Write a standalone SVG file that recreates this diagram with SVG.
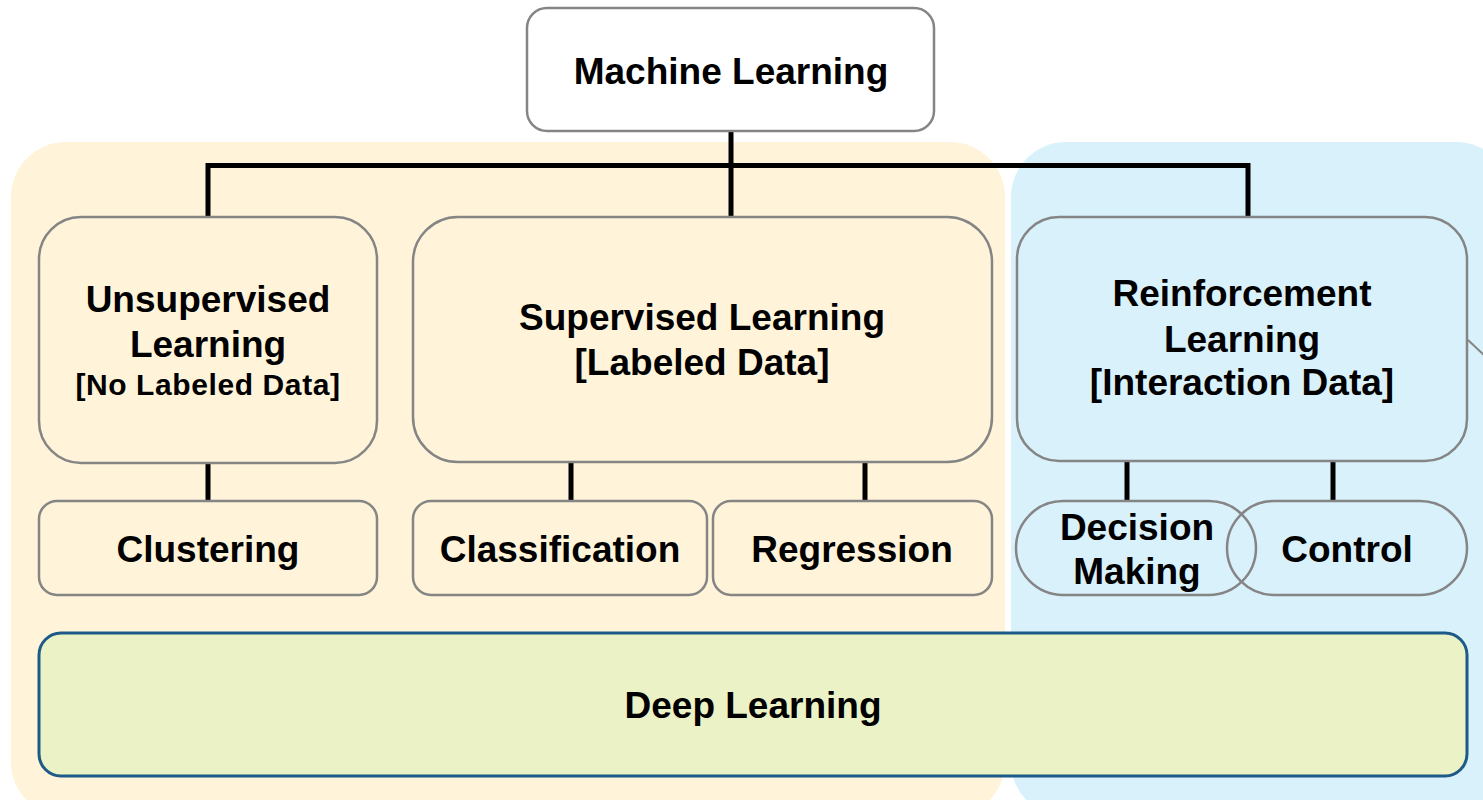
<svg xmlns="http://www.w3.org/2000/svg" width="1483" height="800" viewBox="0 0 1483 800">
  <style>
    .zone-sup { fill: #FFF4D9; }
    .zone-rl { fill: #D9F1FB; }
    .box { stroke: #858585; stroke-width: 2.5; }
    .sup { fill: #FFF4D9; }
    .rl { fill: #D9F1FB; }
    .top { fill: #FFFFFF; }
    .deep { fill: #EAF2C6; stroke: #1D5A87; stroke-width: 3; }
    .link { stroke: #000000; stroke-width: 5; fill: none; stroke-linecap: butt; }
    .label { font-family: "Liberation Sans", Arial, sans-serif; font-weight: bold; font-size: 37px; fill: #000000; text-anchor: middle; }
    .small { font-size: 30px; letter-spacing: 0.6px; }
  </style>

  <!-- background zones -->
  <rect class="zone-sup" x="11" y="142" width="994" height="675" rx="55"/>
  <rect class="zone-rl" x="1011" y="142" width="500" height="675" rx="55"/>

  <!-- connectors -->
  <g id="connectors">
    <path class="link" d="M731 132 V217"/>
    <path class="link" d="M208 217 V165.5 H1248 V217"/>
    <path class="link" d="M208 463 V501"/>
    <path class="link" d="M571 462 V501"/>
    <path class="link" d="M865 462 V501"/>
    <path class="link" d="M1127 461 V501"/>
    <path class="link" d="M1333 461 V501"/>
    <path d="M1468 340 L1484 355" stroke="#858585" stroke-width="2" fill="none"/>
  </g>

  <g id="machine-learning">
    <rect class="box top" x="527" y="8" width="407" height="123" rx="20"/>
    <text class="label" x="731" y="84">Machine Learning</text>
  </g>

  <g id="unsupervised">
    <rect class="box sup" x="39" y="217" width="338" height="246" rx="42"/>
    <text class="label" x="208" y="312">Unsupervised</text>
    <text class="label" x="208" y="357">Learning</text>
    <text class="label small" x="208" y="395">[No Labeled Data]</text>
  </g>

  <g id="supervised">
    <rect class="box sup" x="413" y="217" width="579" height="245" rx="45"/>
    <text class="label" x="702" y="330">Supervised Learning</text>
    <text class="label" x="702" y="375">[Labeled Data]</text>
  </g>

  <g id="reinforcement">
    <rect class="box rl" x="1017" y="217" width="450" height="244" rx="42"/>
    <text class="label" x="1242" y="306">Reinforcement</text>
    <text class="label" x="1242" y="352">Learning</text>
    <text class="label" x="1242" y="395">[Interaction Data]</text>
  </g>

  <g id="clustering">
    <rect class="box sup" x="39" y="501" width="338" height="94" rx="18"/>
    <text class="label" x="208" y="562">Clustering</text>
  </g>

  <g id="classification">
    <rect class="box sup" x="413" y="501" width="294" height="94" rx="18"/>
    <text class="label" x="560" y="562">Classification</text>
  </g>

  <g id="regression">
    <rect class="box sup" x="713" y="501" width="279" height="94" rx="18"/>
    <text class="label" x="852" y="562">Regression</text>
  </g>

  <g id="decision-making">
    <rect class="box rl" x="1016" y="501" width="240" height="94" rx="47"/>
    <text class="label" x="1137" y="540">Decision</text>
    <text class="label" x="1137" y="584">Making</text>
  </g>

  <g id="control">
    <rect class="box" fill="none" x="1227" y="501" width="240" height="94" rx="47"/>
    <text class="label" x="1347" y="562">Control</text>
  </g>

  <g id="deep-learning">
    <rect class="deep" x="39" y="633" width="1428" height="143" rx="22"/>
    <text class="label" x="753" y="718">Deep Learning</text>
  </g>
</svg>
